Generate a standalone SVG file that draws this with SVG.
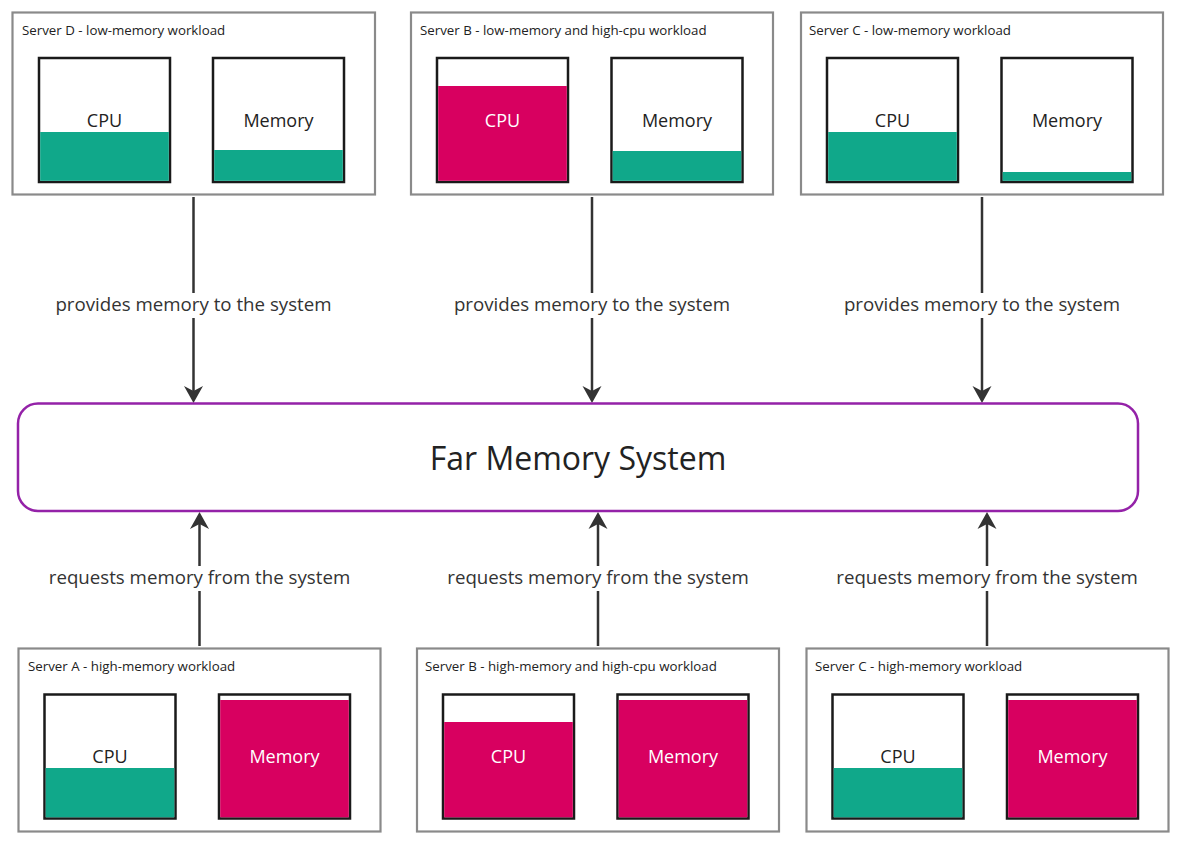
<svg xmlns="http://www.w3.org/2000/svg" width="1183" height="845" viewBox="0 0 1183 845">
<style>
text{font-family:"Open Sans","Noto Sans","DejaVu Sans",sans-serif;fill:#222}
.srv{fill:#fff;stroke:#8a8a8a;stroke-width:2.2}
.title{font-size:13.3px}
.res{fill:#fff;stroke:#1a1a1a;stroke-width:2.5}
.g{fill:#10a88a}
.r{fill:#d80060}
.lbl{font-size:18px;text-anchor:middle}
.w{fill:#fff}
.conn{stroke:#333;stroke-width:2.5;fill:none}
.elab{font-size:18.7px;text-anchor:middle;fill:#333}
</style>
<defs>
<marker id="ah" viewBox="-20 -11 22 22" refX="-8" refY="0" markerWidth="22" markerHeight="22" markerUnits="userSpaceOnUse" orient="auto">
<path d="M0,0 L-17,-9.5 L-12,0 L-17,9.5 Z" fill="#333"/>
</marker>
</defs>
<rect width="1183" height="845" fill="#fff"/>

<g id="connectors">
<line class="conn" x1="193.5" y1="197" x2="193.5" y2="293"/>
<line class="conn" x1="193.5" y1="318" x2="193.5" y2="395" marker-end="url(#ah)"/>
<text class="elab" x="193.5" y="311">provides memory to the system</text>
<line class="conn" x1="592" y1="197" x2="592" y2="293"/>
<line class="conn" x1="592" y1="318" x2="592" y2="395" marker-end="url(#ah)"/>
<text class="elab" x="592" y="311">provides memory to the system</text>
<line class="conn" x1="982" y1="197" x2="982" y2="293"/>
<line class="conn" x1="982" y1="318" x2="982" y2="395" marker-end="url(#ah)"/>
<text class="elab" x="982" y="311">provides memory to the system</text>

<line class="conn" x1="199.5" y1="646" x2="199.5" y2="591"/>
<line class="conn" x1="199.5" y1="566" x2="199.5" y2="520" marker-end="url(#ah)"/>
<text class="elab" x="199.5" y="584">requests memory from the system</text>
<line class="conn" x1="598" y1="646" x2="598" y2="591"/>
<line class="conn" x1="598" y1="566" x2="598" y2="520" marker-end="url(#ah)"/>
<text class="elab" x="598" y="584">requests memory from the system</text>
<line class="conn" x1="987" y1="646" x2="987" y2="591"/>
<line class="conn" x1="987" y1="566" x2="987" y2="520" marker-end="url(#ah)"/>
<text class="elab" x="987" y="584">requests memory from the system</text>
</g>

<g id="far-memory">
<rect x="18" y="403.5" width="1120" height="107.5" rx="20" fill="#fff" stroke="#9422a8" stroke-width="2.5"/>
<text x="578" y="470" font-size="32" text-anchor="middle">Far Memory System</text>
</g>

<g id="server-d-top">
<rect class="srv" x="12.5" y="12.5" width="362.5" height="182"/>
<text class="title" x="22" y="35">Server D - low-memory workload</text>
<rect class="res" x="39" y="58" width="131" height="124"/>
<rect class="g" x="40.2" y="132" width="128.6" height="48.8"/>
<text class="lbl" x="104.5" y="127">CPU</text>
<rect class="res" x="213" y="58" width="131" height="124"/>
<rect class="g" x="214.2" y="150" width="128.6" height="30.8"/>
<text class="lbl" x="278.5" y="127">Memory</text>
</g>

<g id="server-b-top">
<rect class="srv" x="411" y="12.5" width="362" height="182"/>
<text class="title" x="420" y="35">Server B - low-memory and high-cpu workload</text>
<rect class="res" x="437" y="58" width="131" height="124"/>
<rect class="r" x="438.2" y="86" width="128.6" height="94.8"/>
<text class="lbl w" x="502.5" y="127">CPU</text>
<rect class="res" x="611.5" y="58" width="131" height="124"/>
<rect class="g" x="612.7" y="151" width="128.6" height="29.8"/>
<text class="lbl" x="677" y="127">Memory</text>
</g>

<g id="server-c-top">
<rect class="srv" x="801" y="12.5" width="362" height="182"/>
<text class="title" x="809" y="35">Server C - low-memory workload</text>
<rect class="res" x="827" y="58" width="131" height="124"/>
<rect class="g" x="828.2" y="132" width="128.6" height="48.8"/>
<text class="lbl" x="892.5" y="127">CPU</text>
<rect class="res" x="1001.5" y="58" width="131" height="124"/>
<rect class="g" x="1002.7" y="172" width="128.6" height="8.8"/>
<text class="lbl" x="1067" y="127">Memory</text>
</g>

<g id="server-a-bottom">
<rect class="srv" x="18.5" y="648.5" width="362" height="183"/>
<text class="title" x="28" y="671">Server A - high-memory workload</text>
<rect class="res" x="44.5" y="694.5" width="131" height="124"/>
<rect class="g" x="45.7" y="768" width="128.6" height="49.3"/>
<text class="lbl" x="110" y="763">CPU</text>
<rect class="res" x="219" y="694.5" width="131" height="124"/>
<rect class="r" x="220.2" y="700" width="128.6" height="117.3"/>
<text class="lbl w" x="284.5" y="763">Memory</text>
</g>

<g id="server-b-bottom">
<rect class="srv" x="417" y="648.5" width="362" height="183"/>
<text class="title" x="425" y="671">Server B - high-memory and high-cpu workload</text>
<rect class="res" x="443" y="694.5" width="131" height="124"/>
<rect class="r" x="444.2" y="722" width="128.6" height="95.3"/>
<text class="lbl w" x="508.5" y="763">CPU</text>
<rect class="res" x="617.5" y="694.5" width="131" height="124"/>
<rect class="r" x="618.7" y="700" width="128.6" height="117.3"/>
<text class="lbl w" x="683" y="763">Memory</text>
</g>

<g id="server-c-bottom">
<rect class="srv" x="806.5" y="648.5" width="362" height="183"/>
<text class="title" x="815" y="671">Server C - high-memory workload</text>
<rect class="res" x="832.5" y="694.5" width="131" height="124"/>
<rect class="g" x="833.7" y="768" width="128.6" height="49.3"/>
<text class="lbl" x="898" y="763">CPU</text>
<rect class="res" x="1007" y="694.5" width="131" height="124"/>
<rect class="r" x="1008.2" y="700" width="128.6" height="117.3"/>
<text class="lbl w" x="1072.5" y="763">Memory</text>
</g>
</svg>
